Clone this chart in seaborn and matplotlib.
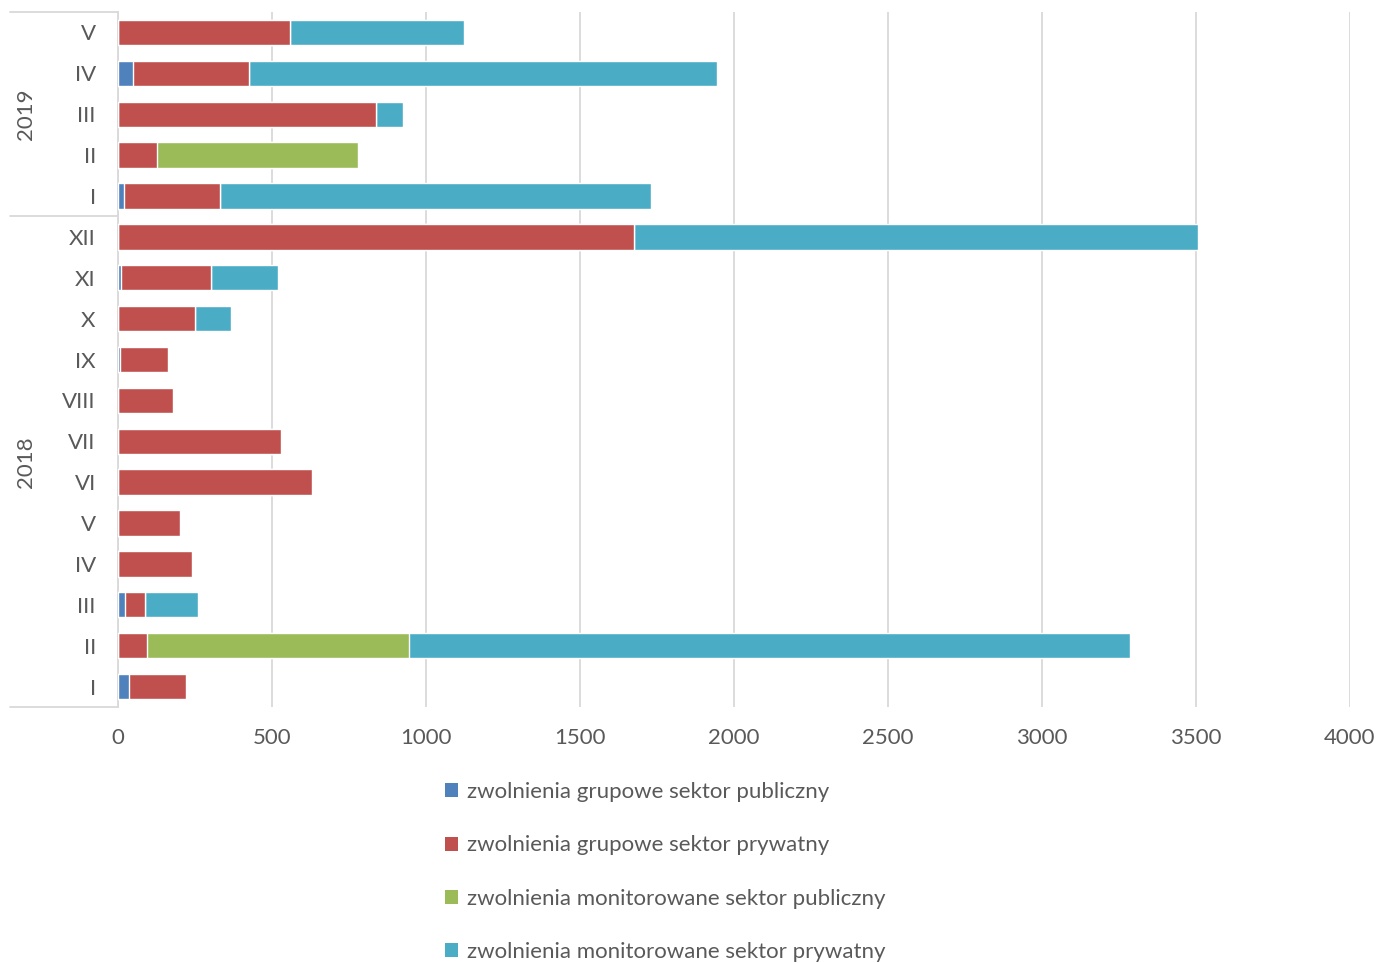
import numpy as np
import pandas as pd
import seaborn as sns
import matplotlib.pyplot as plt
from matplotlib.lines import Line2D
from matplotlib.patches import Patch

# Monate 2018 I..XII, 2019 I..V
years = [2018] * 12 + [2019] * 5
months = ["I", "II", "III", "IV", "V", "VI", "VII", "VIII", "IX", "X", "XI", "XII",
          "I", "II", "III", "IV", "V"]

grup_publ = [35, 0, 24, 0, 0, 0, 0, 0, 8, 0, 10, 0, 19, 0, 0, 49, 0]
grup_pryw = [186, 93, 64, 240, 200, 630, 529, 179, 154, 250, 291, 1674, 312, 128, 838, 376, 558]
mon_publ = [0, 853, 0, 0, 0, 0, 0, 0, 0, 0, 0, 0, 0, 650, 0, 0, 0]
mon_pryw = [0, 2341, 171, 0, 0, 0, 0, 0, 0, 118, 217, 1834, 1399, 0, 86, 1520, 566]

labels = ["zwolnienia grupowe sektor publiczny",
          "zwolnienia grupowe sektor prywatny",
          "zwolnienia monitorowane sektor publiczny",
          "zwolnienia monitorowane sektor prywatny"]
colors = ["#4F81BD", "#C0504D", "#9BBB59", "#4BACC6"]

df = pd.DataFrame({"rok": years, "mies": months,
                   "gp": grup_publ, "gpr": grup_pryw, "mp": mon_publ, "mpr": mon_pryw})
df["key"] = df["mies"] + " " + df["rok"].astype(str)
df = df.iloc[::-1].reset_index(drop=True)  # neuestes oben

# kumulierte Summen fuer gestapelte Balken
df["c1"] = df["gp"]
df["c2"] = df["c1"] + df["gpr"]
df["c3"] = df["c2"] + df["mp"]
df["c4"] = df["c3"] + df["mpr"]

sns.set_theme(style="white")
plt.rcParams["font.family"] = ["Lato", "DejaVu Sans"]
grey = "#595959"
fs = 16

fig = plt.figure(figsize=(13.89, 9.63), dpi=100)
ax = fig.add_axes([118 / 1389, 1 - 707 / 963, (1350 - 118) / 1389, (707 - 12) / 963])

for col, c in zip(["c4", "c3", "c2", "c1"], colors[::-1]):
    sns.barplot(data=df, x=col, y="key", order=list(df["key"]), orient="h",
                color=c, saturation=1, width=0.62, ax=ax, zorder=3)

ax.set_xlim(0, 4000)
ax.set_ylim(len(df) - 0.5, -0.5)
ax.set_xticks(np.arange(0, 4001, 500))
ax.set_xticklabels([str(v) for v in range(0, 4001, 500)], fontsize=fs, color=grey)
ax.set_yticks(range(len(df)))
ax.set_yticklabels(df["mies"], fontsize=fs, color=grey)
ax.tick_params(axis="x", length=0, pad=15)
ax.tick_params(axis="y", length=0, pad=16)
ax.set_xlabel("")
ax.set_ylabel("")
ax.grid(axis="x", color="#D9D9D9", linewidth=1.3, zorder=0)
for s in ["top", "right", "bottom"]:
    ax.spines[s].set_visible(False)
ax.spines["left"].set_color("#D9D9D9")
ax.spines["left"].set_linewidth(1.3)

# Jahresgruppen links
for yy in [12, 216, 707]:
    fig.add_artist(Line2D([10 / 1389, 118 / 1389], [1 - yy / 963, 1 - yy / 963],
                          color="#D9D9D9", linewidth=1.3))
for yr in [2019, 2018]:
    idx = np.where(df["rok"] == yr)[0]
    ax.text(-300, idx.mean(), str(yr), rotation=90, ha="center", va="center",
            fontsize=fs, color=grey, clip_on=False)

handles = [Patch(facecolor=c, edgecolor="none") for c in colors]
fig.legend(handles, labels, loc="upper left", bbox_to_anchor=(434 / 1389, 1 - 771 / 963),
           frameon=False, fontsize=fs, labelcolor=grey, handlelength=0.6, handleheight=0.6,
           handletextpad=0.4, labelspacing=1.5, borderpad=0)

plt.savefig("out.png", dpi=100)
